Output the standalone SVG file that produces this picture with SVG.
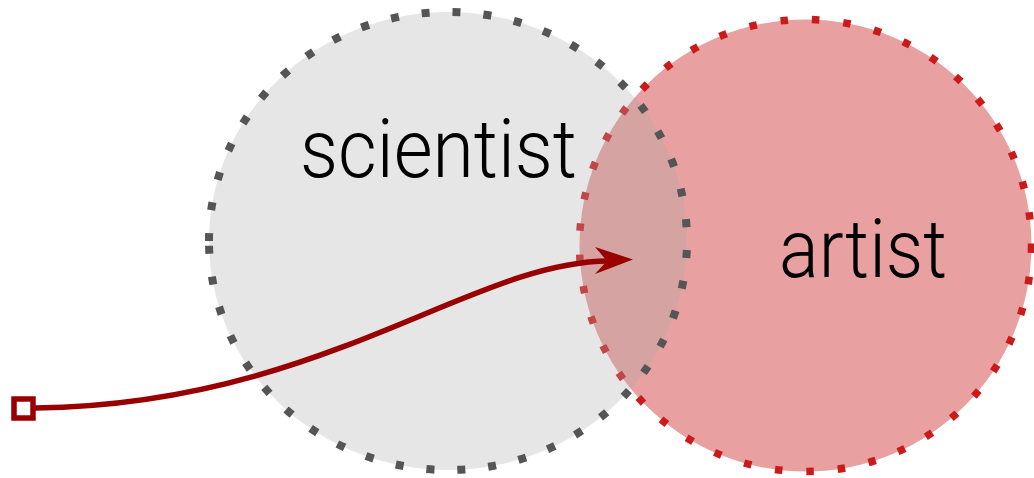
<svg xmlns="http://www.w3.org/2000/svg" width="1034" height="478" viewBox="0 0 1034 478">
  <style>
    .lbl { font-family: Roboto, "Liberation Sans", sans-serif; font-weight: 300; font-size: 81px; fill: #000000; }
    .wire { fill: none; stroke: #990000; stroke-width: 5.5; }
  </style>
  <rect width="1034" height="478" fill="#ffffff"/>
  <g id="artist">
    <circle cx="805.5" cy="245.5" r="226" fill="#e8a0a0" stroke="#cc1a1a" stroke-width="7.5" stroke-dasharray="7.5 24"/>
    <text class="lbl" x="779" y="277" textLength="168" lengthAdjust="spacingAndGlyphs">artist</text>
  </g>
  <g id="scientist">
    <path d="M 209 241 A 239 229 0 1 1 687 241 A 239 229 0 1 1 209 241 Z" fill="#acacac" fill-opacity="0.3" stroke="#555555" stroke-width="8" stroke-dasharray="8 23"/>
    <text class="lbl" x="300" y="177" textLength="277" lengthAdjust="spacingAndGlyphs">scientist</text>
  </g>
  <g id="connectors">
    <path class="wire" d="M 24 408 L 35 408 C 320 405, 470 262, 608 261"/>
    <rect x="14" y="399" width="19" height="19" fill="#ffffff" stroke="#990000" stroke-width="5.5"/>
    <polygon points="633,259.5 595,247 607,261 595,274" fill="#990000"/>
  </g>
</svg>
